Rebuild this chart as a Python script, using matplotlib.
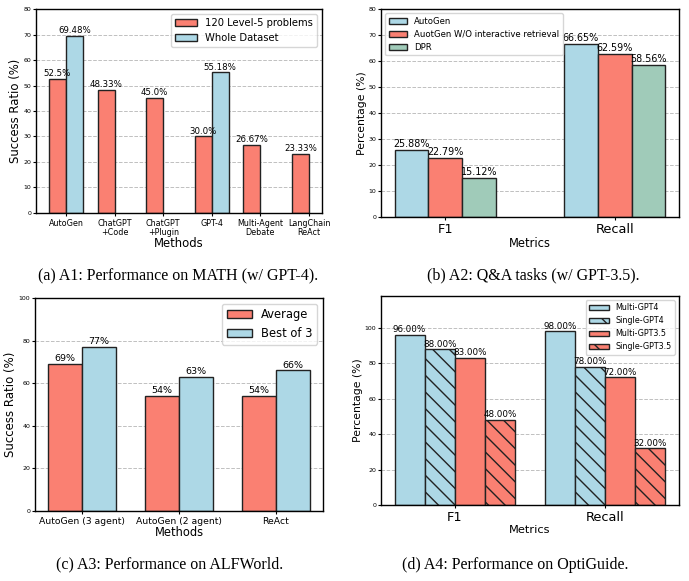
import numpy as np
import matplotlib
matplotlib.use("Agg")
import matplotlib.pyplot as plt

# (a) MATH
math_methods = ["AutoGen", "ChatGPT\n+Code", "ChatGPT\n+Plugin", "GPT-4", "Multi-Agent\nDebate", "LangChain\nReAct"]
math_lvl5 = [52.5, 48.33, 45.0, 30.0, 26.67, 23.33]
math_whole_idx = [0, 3]
math_whole = [69.48, 55.18]

# (b) Q&A
qa_metrics = ["F1", "Recall"]
qa_autogen = [25.88, 66.65]
qa_no_retrieval = [22.79, 62.59]
qa_dpr = [15.12, 58.56]

# (c) ALFWorld
alf_methods = ["AutoGen (3 agent)", "AutoGen (2 agent)", "ReAct"]
alf_avg = [69, 54, 54]
alf_best3 = [77, 63, 66]

# (d) OptiGuide
opti_metrics = ["F1", "Recall"]
opti_multi_gpt4 = [96, 98]
opti_single_gpt4 = [88, 78]
opti_multi_gpt35 = [83, 72]
opti_single_gpt35 = [48, 32]

RED = "#FA8072"
BLUE = "#ADD8E6"
GREEN = "#A0CBB9"
EDGE = "#222222"

plt.rcParams["hatch.linewidth"] = 1.0

fig = plt.figure(figsize=(6.89, 5.81), dpi=100)
ax_a = fig.add_axes([0.0522, 0.6334, 0.4151, 0.3511])
ax_b = fig.add_axes([0.5530, 0.6265, 0.4325, 0.3580])
ax_c = fig.add_axes([0.0508, 0.1205, 0.4180, 0.3666])
ax_d = fig.add_axes([0.5530, 0.1308, 0.4325, 0.3597])


def style(ax, ytick_size=4.5):
    ax.set_axisbelow(True)
    ax.yaxis.grid(True, linestyle="--", color="gray", alpha=0.5, linewidth=0.7)
    ax.tick_params(axis="y", labelsize=ytick_size, length=2, pad=1.5)
    ax.tick_params(axis="x", length=2, pad=2)
    for s in ax.spines.values():
        s.set_linewidth(1.0)


def label_bars(ax, bars, values, fmt, size):
    for b, v in zip(bars, values):
        ax.text(b.get_x() + b.get_width() / 2, b.get_height() + 0.3, fmt.format(v),
                ha="center", va="bottom", fontsize=size)


# (a)
w = 0.35
x = np.arange(len(math_methods))
bars = ax_a.bar(x - w / 2, math_lvl5, w, color=RED, edgecolor=EDGE, linewidth=1, label="120 Level-5 problems")
label_bars(ax_a, bars, math_lvl5, "{}%", 6.2)
bars = ax_a.bar(x[math_whole_idx] + w / 2, math_whole, w, color=BLUE, edgecolor=EDGE, linewidth=1, label="Whole Dataset")
label_bars(ax_a, bars, math_whole, "{}%", 6.2)
ax_a.set_xticks(x)
ax_a.set_xticklabels(math_methods, fontsize=5.8, linespacing=1.0)
ax_a.set_ylim(0, 80)
ax_a.set_ylabel("Success Ratio (%)", fontsize=8.4, labelpad=1)
ax_a.set_xlabel("Methods", fontsize=8.4, labelpad=0)
ax_a.legend(loc="upper right", fontsize=7.2, handlelength=2.2, borderaxespad=0.5)
style(ax_a)

# (b)
w = 0.2
x = np.arange(len(qa_metrics))
for off, vals, col, lab in [(-w, qa_autogen, BLUE, "AutoGen"),
                            (0, qa_no_retrieval, RED, "AuotGen W/O interactive retrieval"),
                            (w, qa_dpr, GREEN, "DPR")]:
    bars = ax_b.bar(x + off, vals, w, color=col, edgecolor=EDGE, linewidth=1, label=lab)
    label_bars(ax_b, bars, vals, "{:.2f}%", 6.9)
ax_b.set_xticks(x)
ax_b.set_xticklabels(qa_metrics, fontsize=9.3)
ax_b.set_ylim(0, 80)
ax_b.set_ylabel("Percentage (%)", fontsize=7.8, labelpad=1)
ax_b.set_xlabel("Metrics", fontsize=8.3, labelpad=1)
ax_b.legend(loc="upper left", fontsize=6.1, handlelength=2.2, borderaxespad=0.5)
style(ax_b)

# (c)
w = 0.35
x = np.arange(len(alf_methods))
bars = ax_c.bar(x - w / 2, alf_avg, w, color=RED, edgecolor=EDGE, linewidth=1, label="Average")
label_bars(ax_c, bars, alf_avg, "{}%", 6.8)
bars = ax_c.bar(x + w / 2, alf_best3, w, color=BLUE, edgecolor=EDGE, linewidth=1, label="Best of 3")
label_bars(ax_c, bars, alf_best3, "{}%", 6.8)
ax_c.set_xticks(x)
ax_c.set_xticklabels(alf_methods, fontsize=6.7)
ax_c.set_ylim(0, 100)
ax_c.set_ylabel("Success Ratio (%)", fontsize=8.5, labelpad=1)
ax_c.set_xlabel("Methods", fontsize=8.3, labelpad=0)
ax_c.legend(loc="upper right", fontsize=8.3, handlelength=2.2, borderaxespad=0.5)
style(ax_c)

# (d)
w = 0.2
x = np.arange(len(opti_metrics))
for off, vals, col, hatch, lab in [(-1.5 * w, opti_multi_gpt4, BLUE, None, "Multi-GPT4"),
                                   (-0.5 * w, opti_single_gpt4, BLUE, "\\\\", "Single-GPT4"),
                                   (0.5 * w, opti_multi_gpt35, RED, None, "Multi-GPT3.5"),
                                   (1.5 * w, opti_single_gpt35, RED, "\\\\", "Single-GPT3.5")]:
    bars = ax_d.bar(x + off, vals, w, color=col, edgecolor=EDGE, linewidth=1, hatch=hatch, label=lab)
    label_bars(ax_d, bars, vals, "{:.2f}%", 6.3)
ax_d.set_xticks(x)
ax_d.set_xticklabels(opti_metrics, fontsize=9.3)
ax_d.set_ylim(0, 118)
ax_d.set_yticks(np.arange(0, 101, 20))
ax_d.set_ylabel("Percentage (%)", fontsize=7.8, labelpad=1)
ax_d.set_xlabel("Metrics", fontsize=8.2, labelpad=1)
ax_d.legend(loc="upper right", fontsize=5.8, handlelength=2.5, borderaxespad=0.5)
style(ax_d)

cap = dict(fontsize=11.5, family="Liberation Serif", ha="center", va="center")
fig.text(178 / 689, 1 - 276 / 581, "(a) A1: Performance on MATH (w/ GPT-4).", **cap)
fig.text(533 / 689, 1 - 275 / 581, "(b) A2: Q&A tasks (w/ GPT-3.5).", **cap)
fig.text(170 / 689, 1 - 564 / 581, "(c) A3: Performance on ALFWorld.", **cap)
fig.text(515 / 689, 1 - 565 / 581, "(d) A4: Performance on OptiGuide.", **cap)

fig.savefig("out.png", dpi=100)
